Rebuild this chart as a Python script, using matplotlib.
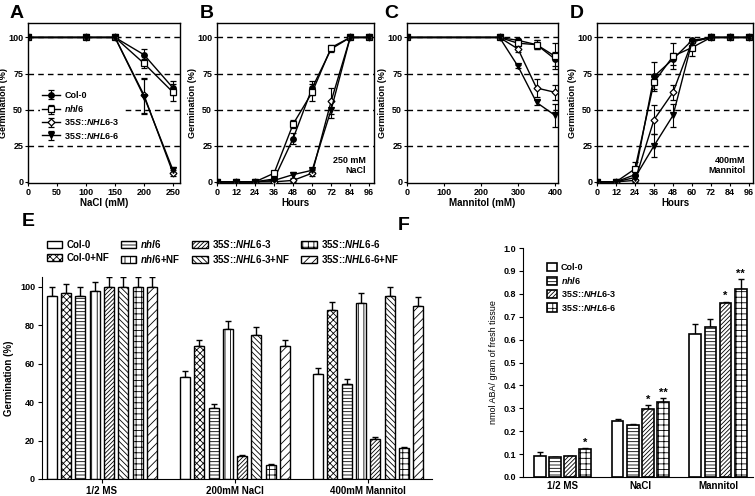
import numpy as np
import matplotlib

matplotlib.use("Agg")
import matplotlib.pyplot as plt

plt.rcParams.update({
    "font.family": ["Liberation Sans", "DejaVu Sans"],
    "font.weight": "bold",
    "axes.labelweight": "bold",
    "mathtext.fontset": "custom",
    "mathtext.rm": "Liberation Sans:bold",
    "mathtext.it": "Liberation Sans:italic:bold",
    "mathtext.bf": "Liberation Sans:bold",
    "hatch.linewidth": 0.6,
    "xtick.direction": "out",
    "ytick.direction": "out",
})

# ---- data -------------------------------------------------------------
geno_labels = ["Col-0", r"$\it{nhl6}$", r"$\it{35S}$::$\it{NHL6}$-3", r"$\it{35S}$::$\it{NHL6}$-6"]

# A: germination vs NaCl
a_x = [0, 100, 150, 200, 250]
a_y = [[100, 100, 100, 88, 65],
       [100, 100, 100, 82, 62],
       [100, 100, 100, 60, 6],
       [100, 100, 100, 59, 8]]
a_err = [[0, 0, 0, 4, 5],
         [0, 0, 0, 3, 6],
         [0, 0, 0, 12, 2],
         [0, 0, 0, 12, 2]]

# B: time course on 250 mM NaCl
hours = [0, 12, 24, 36, 48, 60, 72, 84, 96]
b_y = [[0, 0, 0, 2, 30, 65, 92, 100, 100],
       [0, 0, 0, 6, 40, 62, 93, 100, 100],
       [0, 0, 0, 0, 1, 6, 56, 100, 100],
       [0, 0, 0, 1, 5, 8, 50, 100, 100]]
b_err = [[0, 0, 0, 1, 4, 5, 2, 0, 0],
         [0, 0, 0, 1, 3, 6, 2, 0, 0],
         [0, 0, 0, 0, 1, 2, 9, 0, 0],
         [0, 0, 0, 1, 2, 1, 6, 0, 0]]

# C: germination vs mannitol
c_x = [0, 250, 300, 350, 400]
c_y = [[100, 100, 98, 95, 85],
       [100, 100, 96, 95, 87],
       [100, 100, 92, 65, 62],
       [100, 100, 80, 55, 46]]
c_err = [[0, 0, 1, 3, 5],
         [0, 0, 2, 3, 9],
         [0, 0, 2, 6, 5],
         [0, 0, 1, 2, 8]]

# D: time course on 400 mM mannitol
d_y = [[0, 0, 5, 73, 85, 98, 100, 100, 100],
       [0, 0, 9, 69, 87, 93, 100, 100, 100],
       [0, 0, 1, 43, 62, 97, 100, 100, 100],
       [0, 0, 3, 25, 46, 97, 100, 100, 100]]
d_err = [[0, 0, 3, 10, 4, 1, 0, 0, 0],
         [0, 0, 5, 5, 9, 6, 0, 0, 0],
         [0, 0, 1, 10, 5, 1, 0, 0, 0],
         [0, 0, 2, 8, 8, 1, 0, 0, 0]]

# E: germination with / without NF
e_groups = ["1/2 MS", "200mM NaCl", "400mM Mannitol"]
e_labels = ["Col-0", "Col-0+NF", r"$\it{nhl6}$", r"$\it{nhl6}$+NF",
            r"$\it{35S}$::$\it{NHL6}$-3", r"$\it{35S}$::$\it{NHL6}$-3+NF",
            r"$\it{35S}$::$\it{NHL6}$-6", r"$\it{35S}$::$\it{NHL6}$-6+NF"]
e_ms = [95, 96.5, 95, 97.5, 100, 100, 100, 100]
e_nacl = [53, 69, 37, 78, 12, 75, 7.5, 69]
e_mann = [54.5, 88, 49.5, 91.5, 21, 95, 16, 90]
e_ms_err = [5, 5, 5, 5, 5, 5, 5, 5]
e_nacl_err = [3, 3, 2, 4, 0.5, 4, 0.5, 3.5]
e_mann_err = [3, 4, 2.5, 5, 0.7, 5, 0.7, 4.5]

# F: ABA content
f_groups = ["1/2 MS", "NaCl", "Mannitol"]
f_vals = [[0.093, 0.246, 0.623],
          [0.087, 0.229, 0.654],
          [0.090, 0.299, 0.760],
          [0.121, 0.328, 0.822]]
f_err = [[0.015, 0.006, 0.045],
         [0.002, 0.003, 0.035],
         [0.002, 0.015, 0.006],
         [0.004, 0.016, 0.042]]
f_stars = [["", "", ""], ["", "", ""], ["", "*", "*"], ["*", "**", "**"]]

# ---- styles -----------------------------------------------------------
markers = ["o", "s", "D", "v"]
faces = ["black", "white", "white", "black"]
msizes = [4, 4, 3.5, 4.5]
e_hatch = [None, "xxxxx", "-----", "|||", "////////", "\\\\\\\\\\\\", "+++", "////"]
f_hatch = [None, "-----", "////////", "+++"]

W, H = 755, 496
fig = plt.figure(figsize=(W / 100, H / 100), dpi=100)


def px_axes(left, top, right, bottom):
    return fig.add_axes([left / W, 1 - bottom / H, (right - left) / W, (bottom - top) / H])


def line_panel(ax, x, ys, errs, xlim, xticks, xlabel):
    for dy in [25, 50, 75, 100]:
        ax.axhline(dy, color="black", lw=1.0, ls=(0, (4, 3)), zorder=1)
    for i, (y, e) in enumerate(zip(ys, errs)):
        ax.errorbar(x, y, yerr=e, color="black", lw=1.0, marker=markers[i], ms=msizes[i],
                    mfc=faces[i], mec="black", mew=0.9, capsize=2.5, elinewidth=0.8,
                    label=geno_labels[i], zorder=3)
    ax.set_xlim(*xlim)
    ax.set_ylim(-0.8, 110)
    ax.set_xticks(xticks)
    ax.set_yticks([0, 25, 50, 75, 100])
    ax.set_xlabel(xlabel, fontsize=7, labelpad=1)
    ax.set_ylabel("Germination (%)", fontsize=6.5, labelpad=0)
    ax.tick_params(labelsize=6.5, length=2.5, width=0.8, pad=1)
    for s in ax.spines.values():
        s.set_linewidth(1.0)


ax_a = px_axes(28, 23, 180, 183)
line_panel(ax_a, a_x, a_y, a_err, (0, 262), [0, 50, 100, 150, 200, 250], "NaCl (mM)")
leg = ax_a.legend(loc="center left", bbox_to_anchor=(0.05, 0.42), frameon=True, fontsize=6.5,
                  handlelength=2.0, handletextpad=0.5, labelspacing=0.35, borderpad=0.2)
leg.get_frame().set_edgecolor("none")
leg.get_frame().set_alpha(1.0)

ax_b = px_axes(217, 23, 374, 183)
line_panel(ax_b, hours, b_y, b_err, (0, 99), hours, "Hours")
ax_b.text(0.95, 0.05, "250 mM\nNaCl", transform=ax_b.transAxes, ha="right", va="bottom",
          fontsize=6.5, multialignment="right", zorder=5,
          bbox=dict(facecolor="white", edgecolor="none", pad=0.5))

ax_c = px_axes(407, 23, 558, 183)
line_panel(ax_c, c_x, c_y, c_err, (0, 408), [0, 100, 200, 300, 400], "Mannitol (mM)")

ax_d = px_axes(597, 23, 753, 183)
line_panel(ax_d, hours, d_y, d_err, (0, 98.5), hours, "Hours")
ax_d.text(0.95, 0.05, "400mM\nMannitol", transform=ax_d.transAxes, ha="right", va="bottom",
          fontsize=6.5, multialignment="right", zorder=5,
          bbox=dict(facecolor="white", edgecolor="none", pad=0.5))

for lab, xp in zip("ABCD", [10, 200, 384, 570]):
    fig.text(xp / W, 1 - 14 / H, lab, fontsize=14, fontweight="bold", va="center")

# ---- E ----------------------------------------------------------------
ax_e = px_axes(42, 277, 432, 479)
slot, bw = 0.1075, 0.075
xg = np.arange(len(e_groups))
e_vals = np.array([e_ms, e_nacl, e_mann])
e_errs = np.array([e_ms_err, e_nacl_err, e_mann_err])
for i in range(8):
    xs = xg + (i - 3.5) * slot
    ax_e.bar(xs, e_vals[:, i], width=bw, color="white", edgecolor="black", lw=1.0,
             hatch=e_hatch[i], label=e_labels[i], zorder=2)
    ax_e.errorbar(xs, e_vals[:, i], yerr=[np.zeros(3), e_errs[:, i]], fmt="none",
                  ecolor="black", elinewidth=1.0, capsize=2.5, capthick=1.0, zorder=1)
ax_e.set_xlim(-0.45, 2.48)
ax_e.set_ylim(0, 105)
ax_e.set_xticks(xg)
ax_e.set_xticklabels(e_groups, fontsize=7)
ax_e.set_yticks(range(0, 101, 20))
ax_e.tick_params(axis="y", labelsize=6.5, length=3, width=0.8, pad=2)
ax_e.tick_params(axis="x", length=3, width=0.8, pad=2)
ax_e.set_ylabel("Germination (%)", fontsize=7, labelpad=4)
for s in ["top", "right"]:
    ax_e.spines[s].set_visible(False)
fig.legend(*ax_e.get_legend_handles_labels(), loc="upper left", ncol=4,
           bbox_to_anchor=(38 / W, 1 - 229 / H), frameon=False, fontsize=7,
           handlelength=1.6, handleheight=0.8, handletextpad=0.4, columnspacing=1.2,
           labelspacing=0.35)
fig.text(22 / W, 1 - 221 / H, "E", fontsize=14, fontweight="bold", va="center")

# ---- F ----------------------------------------------------------------
ax_f = px_axes(523, 248, 753, 477)
fslot, fbw = 0.195, 0.151
xf = np.arange(len(f_groups))
for i in range(4):
    xs = xf + (i - 1.5) * fslot
    ax_f.bar(xs, f_vals[i], width=fbw, color="white", edgecolor="black", lw=1.2,
             hatch=f_hatch[i], label=geno_labels[i], zorder=2)
    ax_f.errorbar(xs, f_vals[i], yerr=[np.zeros(3), f_err[i]], fmt="none",
                  ecolor="black", elinewidth=1.0, capsize=2.5, capthick=1.0, zorder=1)
    for x, v, e, st in zip(xs, f_vals[i], f_err[i], f_stars[i]):
        if st:
            ax_f.text(x, v + e + 0.002, st, ha="center", va="bottom", fontsize=8)
ax_f.set_xlim(-0.51, 2.45)
ax_f.set_ylim(0, 1.0)
ax_f.set_xticks(xf)
ax_f.set_xticklabels(f_groups, fontsize=7)
ax_f.set_yticks(np.arange(0, 1.01, 0.1))
ax_f.set_yticklabels([f"{v:.1f}" for v in np.arange(0, 1.01, 0.1)])
ax_f.tick_params(axis="y", labelsize=6.5, length=3, width=0.8, pad=2)
ax_f.tick_params(axis="x", length=0, pad=3)
ax_f.set_ylabel("nmol ABA/ gram of fresh tissue", fontsize=6.5, fontweight="normal", labelpad=4)
for s in ["top", "right"]:
    ax_f.spines[s].set_visible(False)
ax_f.legend(loc="upper left", bbox_to_anchor=(0.07, 0.97), frameon=False, fontsize=6.5,
            handlelength=1.1, handleheight=1.0, handletextpad=0.4, labelspacing=0.35)
fig.text(398 / W, 1 - 226 / H, "F", fontsize=14, fontweight="bold", va="center")

fig.savefig("out.png", dpi=100)
